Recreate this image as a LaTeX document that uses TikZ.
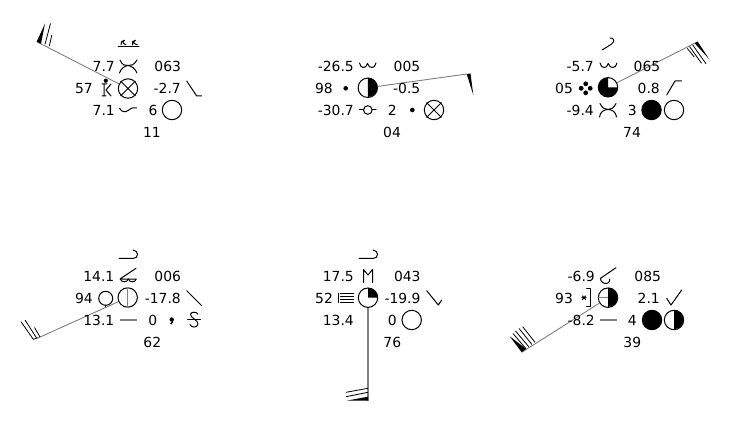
\documentclass[tikz,border=0pt]{standalone}
\usepackage{fontspec}
\setmainfont{DejaVu Sans}
\definecolor{staffgray}{HTML}{808080}
\tikzset{
  lbl/.style={inner sep=0pt,font=\fontsize{13.9}{14}\selectfont,text height=10.1pt,text depth=0pt},
  lblr/.style={lbl,anchor=east},
  sky/.style={circle,draw=black,line width=1pt,minimum size=19.4pt,inner sep=0pt,fill=white},
  sym/.style={draw=black,line width=1pt,line cap=round,line join=round},
  symg/.style={draw=staffgray,line width=1.4pt},
  barbline/.style={draw=black,line width=0.8pt},
  staff/.style={draw=staffgray,line width=0.9pt},
}
\newcommand{\skyx}[1]{\draw[sym] (#1.45)--(#1.225) (#1.135)--(#1.315);}
\newcommand{\rhalf}[1]{\fill (#1.center) -- (#1.north) arc[start angle=90,end angle=-90,radius=9.7pt] -- cycle;}
\newcommand{\quart}[3]{\fill (#1.center) -- ++(#2:9.7pt) arc[start angle=#2,end angle=#3,radius=9.7pt] -- cycle;}
\newcommand{\hookup}[3]{\draw[sym] (#1,#2)--(#3,#2) .. controls ({#3+6},#2) and ({#3+6},{#2-8}) .. (#3,{#2-8.5});}
\begin{document}
\begin{tikzpicture}[x=1pt,y=-1pt]
\useasboundingbox (0,0) rectangle (735,427);
\fill[white] (0,0) rectangle (735,427);

% ---------- Station 1
\node[sky] (s1) at (128,88.5) {};
\skyx{s1}
\coordinate (b1) at (36.7,41.7);
\draw[staff] (s1) -- (b1);
\fill (b1) -- (45,23.5) -- (41,43.8) -- cycle;
\draw[barbline] (45,44.3) -- (50.5,23.5) (49.3,46.2) -- (51.8,35);
\node[lblr] (a1) at (115,66.5) {7.7};
\node[lbl] (a2) at (167.7,66.5) {063};
\node[lblr] (a3) at (93,88.5) {57};
\node[lblr] (a4) at (181,88.5) {-2.7};
\node[lblr] (a5) at (115,110.5) {7.1};
\node[lbl] (a6) at (153,110.5) {6};
\node[sky] (a7) at (172,110) {};
\node[lbl] (a8) at (152,132.5) {11};
\draw[sym] (118,46.7)--(139,46.7);
\draw[sym] (121,44.8) .. controls (120.5,42.5) and (122,40.3) .. (124.5,40.3) .. controls (122,42.5) and (123,43.5) .. (126,44.8);
\draw[sym] (137.3,44.8) .. controls (134,43.8) and (132,42) .. (135.5,40.3) .. controls (133,40) and (131.5,42.5) .. (132.5,44.8);
\draw[sym] (120,60) .. controls (122,65) and (125,66) .. (128,65.5) .. controls (131,66) and (134,65) .. (137,60);
\draw[sym] (119.5,73) .. controls (121,68) and (125,66) .. (128,65.5) .. controls (131,66) and (135,68) .. (137,73);
\fill (105.8,80.7) circle (2.1pt);
\draw[sym] (102,84)--(107,84) (104,84)--(104,96) (102,96)--(106,96) (111,84)--(106,90)--(111,96);
\draw[sym] (186.7,81)--(196.7,96)--(201.7,96);
\draw[sym] (119.5,108.3) .. controls (122,112) and (125,113) .. (128,110.5) .. controls (130,108) and (133,107.5) .. (136.5,108);

% ---------- Station 2
\node[sky] (s2) at (367.8,87.8) {};
\rhalf{s2}
\coordinate (b2) at (466.7,74);
\draw[staff] (s2) -- (b2);
\fill (b2) -- (473.3,95) -- (470.5,73.5) -- cycle;
\node[lblr] (c1) at (354,66.5) {-26.5};
\node[lbl] (c2) at (407,66.5) {005};
\node[lblr] (c3) at (333,88.5) {98};
\fill (345.7,88.3) circle (2.3pt);
\node[lblr] (c4) at (420.5,88.5) {-0.5};
\node[lblr] (c5) at (354,110.5) {-30.7};
\node[lbl] (c6) at (392.3,110.5) {2};
\fill (412.3,110) circle (2.3pt);
\node[sky] (c7) at (434,110) {};
\skyx{c7}
\node[lbl] (c8) at (392,132.5) {04};
\draw[sym] (359.5,63) .. controls (360.5,69) and (366,69) .. (367.5,63.5) .. controls (369,69) and (375,69) .. (376,63);
\draw[sym] (359.5,110)--(363.5,110) (372,110)--(376,110);
\draw[sym] (367.8,110) circle (4.3pt);

% ---------- Station 3
\node[sky] (s3) at (608,87.3) {};
\quart{s3}{0}{-270}
\coordinate (b3) at (697.7,41.7);
\draw[staff] (s3) -- (b3);
\fill (b3) -- (709.3,59.3) -- (694.7,43.3) -- cycle;
\draw[barbline] (692.6,44.8) -- (706,63.8) (689.5,46.5) -- (701.5,63.3) (687.2,48.3) -- (694.2,57);
\node[lblr] (d1) at (594,66.5) {-5.7};
\node[lbl] (d2) at (647,66.5) {065};
\node[lbl] (d3) at (564,88.5) {05};
\node[lblr] (d4) at (660,88.5) {0.8};
\node[lblr] (d5) at (594,110.5) {-9.4};
\node[lbl] (d6) at (632.3,110.5) {3};
\node[sky,fill=black] (d7) at (651.5,110) {};
\node[sky] (d8) at (674,110) {};
\node[lbl] (d9) at (632,132.5) {74};
\draw[sym] (602,50) -- (611,44.5) .. controls (615.5,41.5) and (614,37.5) .. (610,38);
\draw[sym] (600,63) .. controls (601,69) and (607,69) .. (608.3,63.5) .. controls (610,69) and (616,69) .. (617,63);
\fill (585.7,83.8) circle (2.4pt) (585.7,92.8) circle (2.4pt) (581.2,88.3) circle (2.4pt) (590.2,88.3) circle (2.4pt);
\draw[sym] (666.7,95)--(675,81)--(681.7,81);
\draw[sym] (600,103.5) .. controls (602,108) and (605,109.5) .. (608,109.5) .. controls (611,109.5) and (614,108) .. (616,103.5);
\draw[sym] (599.5,117) .. controls (600,112) and (604,109.5) .. (608,109.5) .. controls (612,109.5) and (616,112) .. (616.5,117);

% ---------- Station 4
\node[sky] (s4) at (127.7,297.5) {};
\draw[symg] (s4.north) -- (s4.south);
\coordinate (b4) at (38,338);
\draw[staff] (s4) -- (b4);
\draw[barbline] (33.3,339.3) -- (38,337.8) (33.3,339.3) -- (21,321.7) (36.7,338.2) -- (25,320) (40,337) -- (34.5,327.5);
\node[lblr] (e1) at (114.5,276.5) {14.1};
\node[lbl] (e2) at (167.7,276.5) {006};
\node[lbl] (e3) at (84,298.5) {94};
\node[lblr] (e4) at (181,298.5) {-17.8};
\node[lblr] (e5) at (114.5,320.5) {13.1};
\node[lbl] (e6) at (152.7,320.5) {0};
\node[lbl] (e7) at (152.3,342.5) {62};
\hookup{119}{258.5}{133}
\draw[sym] (120,279)--(136,268.3) (120,279)--(136,279);
\draw[sym] (120.5,279) arc[start angle=180,end angle=360,x radius=3.8pt,y radius=2.8pt];
\draw[sym] (128.5,279) arc[start angle=180,end angle=360,x radius=3.8pt,y radius=2.8pt];
\draw[sym] (105.7,298.3) circle (7pt);
\draw[sym] (105.7,305.3)--(105.7,307);
\draw[sym] (186.7,290.7)--(201.7,305.7);
\draw[symg] (119.5,320)--(136.5,320);
\fill (171.7,319.5) circle (2.2pt);
\draw[line width=1.3pt] (172.7,319.5) .. controls (172.9,321.5) and (172.2,323) .. (170.7,324);
\draw[sym] (187.5,319.5)--(200.5,319.5);
\draw[sym] (198,314.3) .. controls (197,311.5) and (191,311.5) .. (190.5,314.3) .. controls (190,317.5) and (198.5,320.5) .. (198,324) .. controls (197.5,328) and (191,328) .. (190,324.5);

% ---------- Station 5
\node[sky] (s5) at (368,297.7) {};
\quart{s5}{90}{0}
\coordinate (b5) at (368,400.7);
\draw[staff,line width=1.4pt] (s5) -- (b5);
\fill (b5) -- (346.5,400.7) -- (368,396.7) -- cycle;
\draw[barbline] (368,392.3) -- (346,396.7) (368,388.3) -- (346,392.3);
\node[lblr] (f1) at (354,276.5) {17.5};
\node[lbl] (f2) at (407.3,276.5) {043};
\node[lbl] (f3) at (324,298.5) {52};
\node[lblr] (f4) at (420.7,298.5) {-19.9};
\node[lblr] (f5) at (354,320.5) {13.4};
\node[lbl] (f6) at (392.3,320.5) {0};
\node[sky] (f7) at (411.7,320) {};
\node[lbl] (f8) at (392.3,342.5) {76};
\hookup{359}{258.5}{373}
\draw[sym] (363.5,282.5)--(363.5,269.5)--(368,275)--(372.5,269.5)--(372.5,282.5);
\draw[sym] (338.5,293.3)--(338.5,302.5);
\draw[line width=1.2pt] (340,293.5)--(354,293.5) (340,296.5)--(354,296.5) (340,299.4)--(354,299.4) (340,302.3)--(354,302.3);
\draw[sym] (426.7,290.7)--(438.3,305)--(441.7,300);

% ---------- Station 6
\node[sky] (s6) at (608,297.7) {};
\rhalf{s6}
\draw[symg] (s6.west) -- (s6.center);
\coordinate (b6) at (521.7,352.3);
\draw[staff] (s6) -- (b6);
\fill (b6) -- (509.7,336.3) -- (526,348.8) -- cycle;
\draw[barbline] (526,348.8) -- (513,333.5) (528.8,346.8) -- (515.5,331) (531.9,344.5) -- (519,328.5) (535,342.3) -- (522.7,326.7);
\node[lblr] (g1) at (595,276.5) {-6.9};
\node[lbl] (g2) at (647.7,276.5) {085};
\node[lbl] (g3) at (564,298.5) {93};
\node[lblr] (g4) at (660,298.5) {2.1};
\node[lblr] (g5) at (595,320.5) {-8.2};
\node[lbl] (g6) at (632.3,320.5) {4};
\node[sky,fill=black] (g7) at (652,320) {};
\node[sky] (g8) at (674,320) {};
\rhalf{g8}
\node[lbl] (g9) at (632.3,342.5) {39};
\draw[sym] (616,267.7)--(600.5,278.3) .. controls (600,282.5) and (605,284.5) .. (608,283) .. controls (609.5,282) and (610,280.5) .. (609.5,279);
\draw[line width=1pt] (581.7,297.7)--(586.3,297.7) (582.4,295.7)--(585.6,299.7) (585.6,295.7)--(582.4,299.7);
\draw[sym] (586.7,288.5)--(590,288.5)--(590,306.7)--(586.7,306.7);
\draw[sym] (666.7,298.3)--(671,305)--(681.7,290);
\draw[symg] (599.5,320)--(616.5,320);
\end{tikzpicture}
\end{document}
